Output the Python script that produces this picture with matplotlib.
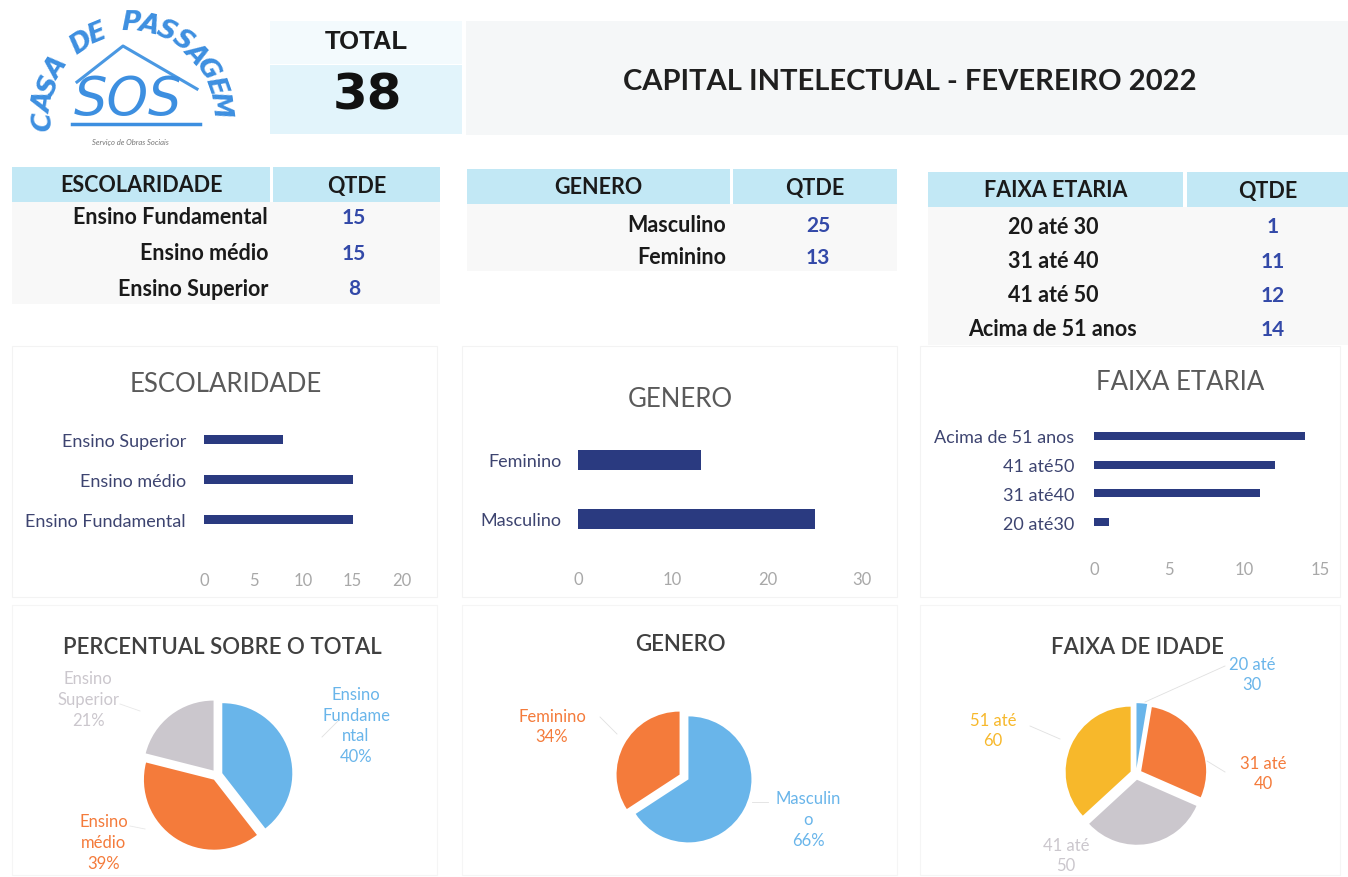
import matplotlib
matplotlib.use('Agg')
import matplotlib.pyplot as plt
from matplotlib.patches import Rectangle
from matplotlib.lines import Line2D
import numpy as np

W, H = 1348, 878

# ---------------- data ----------------
total = 38
title = "CAPITAL INTELECTUAL - FEVEREIRO 2022"
esc_cats = ["Ensino Fundamental", "Ensino médio", "Ensino Superior"]
esc_vals = [15, 15, 8]
gen_cats = ["Masculino", "Feminino"]
gen_vals = [25, 13]
age_cats = ["20 até 30", "31 até 40", "41 até 50", "Acima de 51 anos"]
age_vals = [1, 11, 12, 14]
age_bar_labels = ["20 até30", "31 até40", "41 até50", "Acima de 51 anos"]
esc_ticks = [0, 5, 10, 15, 20]
gen_ticks = [0, 10, 20, 30]
age_ticks = [0, 5, 10, 15]
esc_pie_labels = ["Ensino\nFundame\nntal\n40%", "Ensino\nmédio\n39%", "Ensino\nSuperior\n21%"]
gen_pie_labels = ["Masculin\no\n66%", "Feminino\n34%"]
age_pie_labels = ["20 até\n30", "31 até\n40", "41 até\n50", "51 até\n60"]

# ---------------- style ----------------
FONT = ['Lato', 'DejaVu Sans']
plt.rcParams['font.family'] = FONT
NAVY = '#2a3a80'
CYAN = '#c2e8f5'
VALC = '#3349a8'
BLUE = '#69b5ea'
ORANGE = '#f47b3b'
GREY = '#cbc7cd'
YELLOW = '#f7b82b'

fig = plt.figure(figsize=(W / 100, H / 100), dpi=100)
fig.patch.set_facecolor('white')


def fx(x):
    return x / W


def fy(y):
    return 1 - y / H


def txt(x, y, s, **kw):
    kw.setdefault('ha', 'center')
    kw.setdefault('va', 'center')
    return fig.text(fx(x), fy(y), s, **kw)


def rect(x0, y0, x1, y1, **kw):
    fig.add_artist(Rectangle((fx(x0), fy(y1)), (x1 - x0) / W, (y1 - y0) / H,
                             transform=fig.transFigure, **kw))


def line(xs, ys, **kw):
    fig.add_artist(Line2D([fx(x) for x in xs], [fy(y) for y in ys],
                          transform=fig.transFigure, **kw))


def axes_px(x0, y0, x1, y1):
    return fig.add_axes([fx(x0), fy(y1), (x1 - x0) / W, (y1 - y0) / H])


# ---------------- logo ----------------
logo_c = (130, 118)
letters = "CASA DE PASSAGEM"
angs = np.linspace(182, 8, len(letters))
for ch, a in zip(letters, angs):
    r = 86 if a > 90 else 90
    x = logo_c[0] + r * np.cos(np.radians(a))
    y = logo_c[1] - r * np.sin(np.radians(a)) * 1.05
    txt(x, y, ch, fontsize=19, color='#3d8fe0', rotation=a - 90,
        family=['DejaVu Sans'], style='italic', weight='bold')
line([77, 123, 197], [83, 47, 90], color='#4a98e2', lw=2.2)
txt(128, 100, "SOS", fontsize=38, color='#3d8fe0', family=['DejaVu Sans'],
    style='italic', weight='light')
line([72, 200], [125, 125], color='#3d8fe0', lw=2.5)
txt(130, 143, "Serviço de Obras Sociais", fontsize=5.5, color='#777777', style='italic')

# ---------------- header boxes ----------------
rect(270, 22, 462, 65, color='#f3fafd', lw=0)
rect(270, 66, 462, 135, color='#e2f4fb', lw=0)
txt(366, 42, "TOTAL", fontsize=18.5, weight='bold', color='#1a1a1a',
    family=['Liberation Sans', 'DejaVu Sans'])
txt(367, 96, str(total), fontsize=36, weight='bold', color='#111111',
    family=['DejaVu Sans'])
rect(466, 22, 1348, 136, color='#f5f7f8', lw=0)
txt(910, 82, title, fontsize=21, weight='bold', color='#1f1f1f')


# ---------------- tables ----------------
def table(hx0, hx1, qx0, qx1, y0, y1, head, cats, vals, row_ys, label_x, label_ha, val_x, body_bottom):
    rect(hx0, y1, qx1, body_bottom, color='#f8f8f8', lw=0)
    rect(hx0, y0, hx1, y1, color=CYAN, lw=0)
    rect(qx0, y0, qx1, y1, color=CYAN, lw=0)
    txt((hx0 + hx1) / 2, (y0 + y1) / 2, head, fontsize=15.5, weight='bold', color='#1a1a1a')
    txt((qx0 + qx1) / 2, (y0 + y1) / 2 + 1, "QTDE", fontsize=15.5, weight='bold', color='#1a1a1a')
    for c, v, ry in zip(cats, vals, row_ys):
        txt(label_x, ry, c, fontsize=15.5, weight='bold', color='#1a1a1a', ha=label_ha)
        txt(val_x, ry, str(v), fontsize=15, weight='bold', color=VALC)


table(12, 270, 273, 440, 168, 203, "ESCOLARIDADE", esc_cats, esc_vals,
      [218, 254, 289], 268, 'right', 354, 305)
table(467, 730, 733, 897, 170, 205, "GENERO", gen_cats, gen_vals,
      [226, 258], 726, 'right', 818, 272)
table(928, 1183, 1187, 1348, 173, 208, "FAIXA ETARIA", age_cats, age_vals,
      [227, 262, 296, 330], 1053, 'center', 1273, 346)

# ---------------- cards ----------------
for (x0, x1) in [(12, 437), (462, 897), (920, 1340)]:
    rect(x0, 347, x1, 598, fill=False, ec='#f3f3f3', lw=0.8)
    rect(x0, 606, x1, 876, fill=False, ec='#f5f5f5', lw=0.8)


# ---------------- bar charts ----------------
def barchart(x0, x1, ytop, ybot, cats, vals, ticks, height, ttl, tx, ty, pad, tpad):
    ax = axes_px(x0, ytop, x1, ybot)
    ax.barh(range(len(cats)), vals, height=height, color=NAVY)
    ax.set_xlim(ticks[0], ticks[-1])
    ax.set_ylim(-0.5, len(cats) - 0.5)
    ax.set_xticks(ticks)
    ax.set_yticks(range(len(cats)))
    ax.set_yticklabels(cats)
    for s in ax.spines.values():
        s.set_visible(False)
    ax.tick_params(axis='y', length=0, pad=pad, labelsize=13, labelcolor='#3d4470')
    ax.tick_params(axis='x', length=0, pad=tpad, labelsize=12, labelcolor='#a8a8a8')
    ax.patch.set_alpha(0)
    txt(tx, ty, ttl, fontsize=18.5, color='#5a5a5a')
    return ax


barchart(204, 402, 421, 540, esc_cats, esc_vals, esc_ticks, 0.23,
         "ESCOLARIDADE", 226, 385, 13, 24)
barchart(578, 862, 431.5, 549.5, gen_cats, gen_vals, gen_ticks, 0.34,
         "GENERO", 680, 400, 12, 16)
barchart(1094, 1320, 422.6, 537.4, age_bar_labels, age_vals, age_ticks, 0.28,
         "FAIXA ETARIA", 1180, 383, 14, 18)


# ---------------- pies ----------------
def pie(cx, cy, r, vals, colors, explode, ttl, tx, ty, labels, label_pos):
    k = 1.6
    ax = axes_px(cx - k * r, cy - k * r, cx + k * r, cy + k * r)
    ax.pie(vals, colors=colors, startangle=90, counterclock=False,
           explode=[explode] * len(vals), radius=1,
           wedgeprops=dict(lw=0))
    ax.set_xlim(-k, k)
    ax.set_ylim(-k, k)
    ax.set_aspect('equal')
    ax.axis('off')
    txt(tx, ty, ttl, fontsize=16, color='#404040', weight='semibold')
    for lab, (lx, ly), c in zip(labels, label_pos, colors):
        txt(lx, ly, lab, fontsize=12, color=c, linespacing=1.35)


pie(217, 776, 70, esc_vals, [BLUE, ORANGE, GREY], 0.08,
    "PERCENTUAL SOBRE O TOTAL", 222, 648, esc_pie_labels,
    [(356, 726), (104, 843), (88, 700)])
line([338, 322], [722, 738], color='#e0e0e0', lw=0.6)
line([120, 140], [705, 712], color='#e8e8e8', lw=0.6)
line([130, 145], [827, 830], color='#e8e8e8', lw=0.6)

pie(684, 778, 63, gen_vals, [BLUE, ORANGE], 0.08,
    "GENERO", 680, 645, gen_pie_labels,
    [(808, 820), (552, 727)])
line([600, 617], [718, 735], color='#e0e0e0', lw=0.6)
line([752, 768], [803, 803], color='#e0e0e0', lw=0.6)

pie(1136, 775, 65, age_vals, [BLUE, ORANGE, GREY, YELLOW], 0.09,
    "FAIXA DE IDADE", 1137, 648, age_pie_labels,
    [(1252, 675), (1263, 774), (1066, 856), (993, 731)])
line([1145, 1225], [703, 667], color='#e0e0e0', lw=0.6)
line([1207, 1225], [762, 773], color='#e0e0e0', lw=0.6)
line([1030, 1060], [727, 740], color='#e0e0e0', lw=0.6)

fig.savefig('out.png', dpi=100, facecolor='white')
